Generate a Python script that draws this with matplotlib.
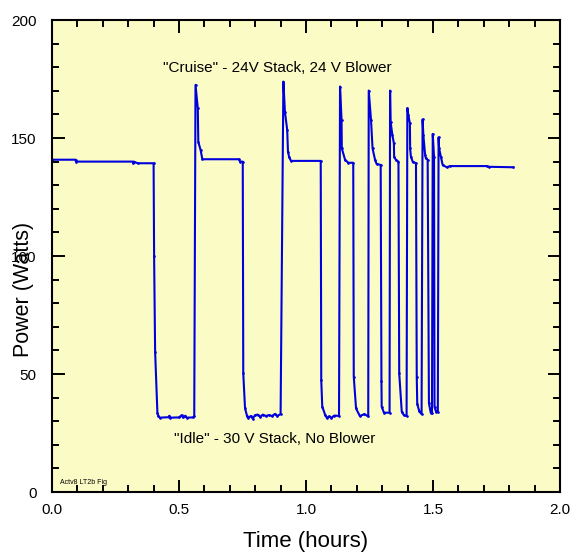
import matplotlib
matplotlib.use('Agg')
import matplotlib.pyplot as plt
from matplotlib.ticker import MultipleLocator, FormatStrFormatter

plt.rcParams['font.family'] = ['Liberation Sans', 'DejaVu Sans']

# time (hours) and power (watts)
time_h = [
    0.000, 0.093, 0.094, 0.318, 0.320, 0.322, 0.337, 0.400,
    0.402, 0.406, 0.415, 0.419, 0.425, 0.460, 0.462, 0.465, 0.500, 0.510,
    0.515, 0.525, 0.530, 0.555, 0.560,
    0.565, 0.574, 0.576, 0.585, 0.592, 0.736, 0.740, 0.751,
    0.753, 0.760, 0.768, 0.772, 0.783, 0.790, 0.800, 0.810, 0.820, 0.830,
    0.842, 0.854, 0.866, 0.878, 0.886, 0.900,
    0.911, 0.917, 0.926, 0.929, 0.934, 0.941, 1.058,
    1.060, 1.064, 1.075, 1.082, 1.090, 1.100, 1.112, 1.130,
    1.134, 1.140, 1.141, 1.154, 1.167, 1.186,
    1.188, 1.197, 1.212, 1.230, 1.245,
    1.247, 1.256, 1.262, 1.272, 1.278, 1.294,
    1.297, 1.298, 1.307, 1.329,
    1.331, 1.333, 1.340, 1.346, 1.347, 1.354, 1.364,
    1.367, 1.377, 1.385, 1.396,
    1.399, 1.403, 1.409, 1.410, 1.413, 1.420, 1.433,
    1.436, 1.438, 1.446, 1.455,
    1.459, 1.462, 1.469, 1.472, 1.479,
    1.484, 1.491, 1.496,
    1.499, 1.504, 1.506, 1.512, 1.519,
    1.522, 1.524, 1.531, 1.538, 1.554, 1.567, 1.711, 1.721, 1.816,
]
power_w = [
    140.8, 140.8, 140.0, 140.0, 139.2, 140.0, 139.3, 139.3,
    100.0, 59.4, 33.5, 32.2, 31.5, 31.7, 32.3, 31.5, 31.6, 32.5,
    31.6, 32.3, 31.5, 31.6, 32.0,
    172.5, 162.6, 148.4, 144.9, 141.0, 141.0, 140.0, 140.0,
    50.3, 35.4, 32.2, 31.4, 32.2, 31.1, 32.6, 32.8, 31.9, 32.8,
    32.2, 32.6, 32.2, 33.1, 32.2, 33.0,
    173.9, 161.1, 153.4, 144.2, 141.8, 140.3, 140.3,
    47.5, 36.2, 32.8, 31.4, 32.0, 31.5, 32.4, 32.2,
    171.8, 157.6, 145.6, 140.7, 139.5, 139.5,
    48.9, 35.4, 32.2, 33.0, 32.0,
    170.1, 157.6, 145.6, 140.7, 139.0, 138.6,
    47.0, 36.1, 33.6, 33.6,
    170.1, 156.9, 151.3, 147.7, 142.1, 140.7, 140.0,
    50.3, 34.0, 32.6, 32.2,
    162.6, 159.7, 156.2, 145.6, 142.1, 140.0, 139.3,
    48.9, 37.3, 34.2, 33.0,
    157.9, 151.3, 142.8, 141.4, 140.7,
    37.6, 33.6, 33.6,
    151.7, 142.1, 36.1, 34.0, 34.0,
    150.3, 145.6, 142.1, 138.6, 137.6, 138.1, 138.1, 137.8, 137.6,
]

cruise_label = '"Cruise" - 24V Stack, 24 V Blower'
idle_label = '"Idle" - 30 V Stack, No Blower'
fig_tag = 'Actv8 LT2b Fig'

fig = plt.figure(figsize=(5.71, 5.52), dpi=100)
ax = fig.add_axes([52 / 571, 1 - 492 / 552, 508 / 571, 472 / 552])
ax.set_facecolor('#FBFBC6')

ax.plot(time_h, power_w, color='#0000DD', lw=1.5, marker='.', ms=1.8)

ax.set_xlim(0, 2.0)
ax.set_ylim(0, 200)
ax.xaxis.set_major_locator(MultipleLocator(0.5))
ax.xaxis.set_minor_locator(MultipleLocator(0.1))
ax.xaxis.set_major_formatter(FormatStrFormatter('%.1f'))
ax.yaxis.set_major_locator(MultipleLocator(50))
ax.yaxis.set_minor_locator(MultipleLocator(10))

ax.tick_params(which='both', direction='in', top=True, right=True,
               width=1.4, labelsize=11)
ax.tick_params(which='major', length=9)
ax.tick_params(which='minor', length=5)
ax.tick_params(axis='y', pad=11)
ax.tick_params(axis='x', pad=8)
for s in ax.spines.values():
    s.set_linewidth(1.5)

ax.set_xlabel('Time (hours)', fontsize=16, labelpad=10)
ax.set_ylabel('Power (Watts)', fontsize=15.5)
ax.yaxis.set_label_coords(-0.035, 0.43)

ax.text(0.886, 179.7, cruise_label, fontsize=11, ha='center', va='center')
ax.text(0.876, 22.5, idle_label, fontsize=11, ha='center', va='center')
ax.text(0.031, 4.2, fig_tag, fontsize=5, ha='left', va='center')

fig.savefig('out.png', dpi=100)
